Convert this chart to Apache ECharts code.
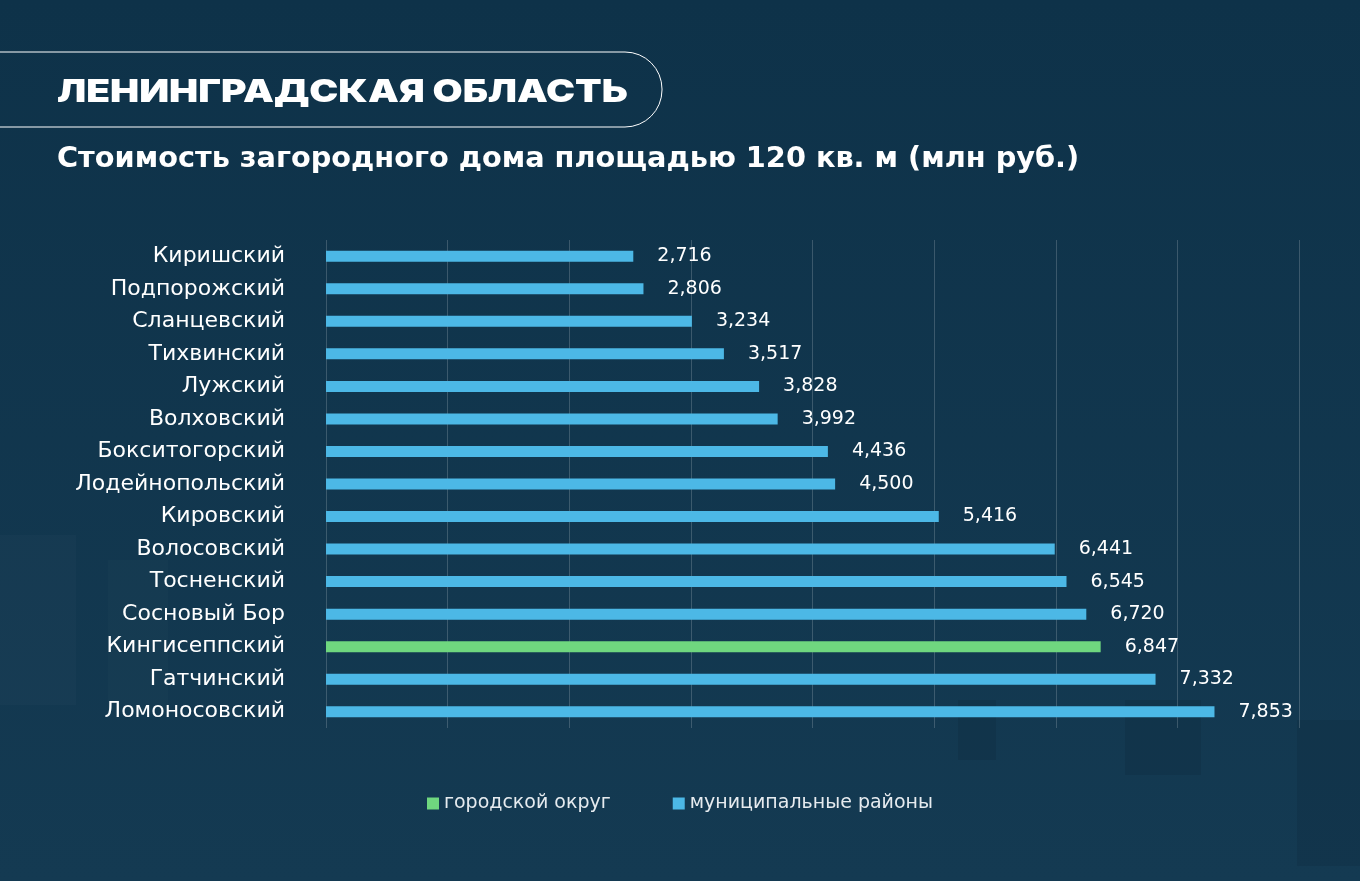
<!DOCTYPE html>
<html><head><meta charset="utf-8">
<script src="https://cdn.jsdelivr.net/npm/echarts@6/dist/echarts.min.js"></script>
<style>html,body{margin:0;padding:0;background:#0f3349;}#c{width:1360px;height:881px;}</style>
</head><body><div id="c"></div>
<script>
const categories = ['Киришский','Подпорожский','Сланцевский','Тихвинский','Лужский','Волховский','Бокситогорский','Лодейнопольский','Кировский','Волосовский','Тосненский','Сосновый Бор','Кингисеппский','Гатчинский','Ломоносовский'];
const municipalValues = [2.716,2.806,3.234,3.517,3.828,3.992,4.436,4.500,5.416,6.441,6.545,6.720,'-',7.332,7.853];
const cityValues = ['-','-','-','-','-','-','-','-','-','-','-','-',6.847,'-','-'];
const seriesNames = ['городской округ','муниципальные районы'];
const titleText = 'ЛЕНИНГРАДСКАЯ ОБЛАСТЬ';
const subtitleText = 'Стоимость загородного дома площадью 120 кв. м (млн руб.)';

const FONT = '"DejaVu Sans", sans-serif';
const fmt = p => Number(p.value).toFixed(3).replace('.', ',');
const chart = echarts.init(document.getElementById('c'));
const labelCfg = {show:true, position:'right', distance:24, formatter:fmt, color:'#ffffff', fontSize:19, fontFamily:FONT};
chart.setOption({
  backgroundColor: new echarts.graphic.LinearGradient(0,0,0,1,[{offset:0,color:'#0e3249'},{offset:1,color:'#143a52'}]),
  animation:false,
  graphic:[
    {type:'rect', silent:true, z:-10, shape:{x:0,y:535,width:76,height:170}, style:{fill:'rgba(255,255,255,0.02)'}},
    {type:'rect', silent:true, z:-10, shape:{x:108,y:560,width:60,height:150}, style:{fill:'rgba(255,255,255,0.015)'}},
    {type:'rect', silent:true, z:-10, shape:{x:958,y:700,width:38,height:60}, style:{fill:'rgba(0,0,0,0.07)'}},
    {type:'rect', silent:true, z:-10, shape:{x:1125,y:700,width:76,height:75}, style:{fill:'rgba(0,0,0,0.07)'}},
    {type:'rect', silent:true, z:-10, shape:{x:1297,y:720,width:63,height:146}, style:{fill:'rgba(0,0,0,0.07)'}},
    {type:'rect', silent:true, shape:{x:-60,y:52,width:722,height:75,r:37}, style:{fill:'none',stroke:'#ffffff',lineWidth:1}},
    {type:'text', silent:true, x:57, y:92, scaleX:1.215, style:{x:0, y:0, text:titleText, fill:'#ffffff', font:'900 32px Inter, sans-serif', verticalAlign:'middle'}},
    {type:'text', silent:true, x:57, y:160, scaleX:1.027, style:{x:0, y:0, text:subtitleText, fill:'#ffffff', font:'bold 28px '+FONT, verticalAlign:'middle'}}
  ],
  legend:{bottom:63, left:'center', itemWidth:12, itemHeight:12, itemGap:62, icon:'rect',
    textStyle:{color:'#e6ebef', fontSize:19, fontFamily:FONT}, data:seriesNames},
  grid:{left:326, right:61, top:240, height:488, containLabel:false},
  xAxis:{type:'value', min:0, max:8.6, interval:1.075, axisLabel:{show:false}, axisLine:{show:false}, axisTick:{show:false},
    splitLine:{show:true, lineStyle:{color:'rgba(255,255,255,0.18)', width:1}}},
  yAxis:{type:'category', inverse:true, data:categories, axisLine:{show:false}, axisTick:{show:false},
    axisLabel:{color:'#ffffff', fontSize:22, fontFamily:FONT, margin:41}},
  series:[
    {name:seriesNames[0], type:'bar', stack:'s', data:cityValues, barWidth:11, itemStyle:{color:'#6fd77f'}, label:labelCfg},
    {name:seriesNames[1], type:'bar', stack:'s', data:municipalValues, barWidth:11, itemStyle:{color:'#4cb8e6'}, label:labelCfg}
  ]
});
</script></body></html>
